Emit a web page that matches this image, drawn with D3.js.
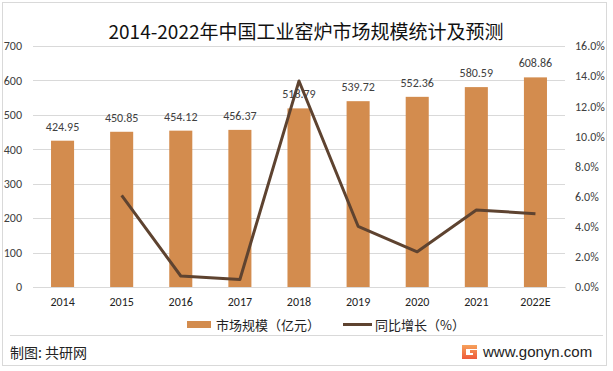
<!DOCTYPE html>
<html>
<head>
<meta charset="utf-8">
<script src="https://cdn.jsdelivr.net/npm/d3@7"></script>
<style>
	body { margin: 0; background: #fff; }
	text { font-family: "Microsoft YaHei", "Noto Sans CJK SC", sans-serif; }
</style>
</head>
<body>
<div id="graphic-wrapper"></div>
<script>
const years = ["2014", "2015", "2016", "2017", "2018", "2019", "2020", "2021", "2022E"]
const marketSize = [424.95, 450.85, 454.12, 456.37, 518.79, 539.72, 552.36, 580.59, 608.86]
const growthPct = [null, 6.09, 0.73, 0.50, 13.68, 4.03, 2.34, 5.11, 4.87]
const leftTicks = [0, 100, 200, 300, 400, 500, 600, 700]
const rightTicks = [0, 2, 4, 6, 8, 10, 12, 14, 16]

const BAR_COLOR = "#D38C4E"
const LINE_COLOR = "#5E4330"
const TEXT_COLOR = "#404040"

const DIMENSIONS = {
	width: 613,
	height: 371,
	margin: { top: 46, right: 48, bottom: 84, left: 33 },
}
DIMENSIONS.boundedWidth = DIMENSIONS.width - DIMENSIONS.margin.left - DIMENSIONS.margin.right
DIMENSIONS.boundedHeight = DIMENSIONS.height - DIMENSIONS.margin.top - DIMENSIONS.margin.bottom

const svg = d3.select("#graphic-wrapper")
	.append("svg")
		.attr("width", DIMENSIONS.width)
		.attr("height", DIMENSIONS.height)

// outer frame
svg.append("rect")
	.attr("x", 2.5).attr("y", 2.5)
	.attr("width", 604).attr("height", 363)
	.attr("fill", "none")
	.attr("stroke", "#d9d9d9")

svg.append("text")
	.attr("x", 306)
	.attr("y", 39)
	.attr("text-anchor", "middle")
	.attr("font-size", 19)
	.attr("fill", "#111")
	.text("2014-2022年中国工业窑炉市场规模统计及预测")

const bounds = svg.append("g")
	.attr("transform", `translate(${DIMENSIONS.margin.left},${DIMENSIONS.margin.top})`)

const xScale = d3.scaleBand()
	.domain(years)
	.range([0, DIMENSIONS.boundedWidth])
	.paddingInner(0.61)
	.paddingOuter(0.305)

const yScale = d3.scaleLinear()
	.domain([0, 700])
	.range([DIMENSIONS.boundedHeight, 0])

const y2Scale = d3.scaleLinear()
	.domain([0, 16])
	.range([DIMENSIONS.boundedHeight, 0])

// grid lines
bounds.selectAll(".grid-line")
	.data(leftTicks)
	.join("line")
		.attr("class", "grid-line")
		.attr("x1", 0)
		.attr("x2", DIMENSIONS.boundedWidth)
		.attr("y1", d => Math.round(yScale(d)) + 0.5)
		.attr("y2", d => Math.round(yScale(d)) + 0.5)
		.attr("stroke", "#d9d9d9")

// left axis
const yAxis = d3.axisLeft(yScale).tickValues(leftTicks).tickSize(0).tickPadding(11)
const yAxisG = bounds.append("g").call(yAxis)
yAxisG.select(".domain").remove()
yAxisG.selectAll("text")
	.attr("font-size", 12)
	.attr("fill", TEXT_COLOR)
	.style("font-family", "Calibri, Carlito, 'Liberation Sans', sans-serif")

// right axis
const y2Axis = d3.axisRight(y2Scale).tickValues(rightTicks).tickSize(0).tickPadding(10)
	.tickFormat(d => d.toFixed(1) + "%")
const y2AxisG = bounds.append("g")
	.attr("transform", `translate(${DIMENSIONS.boundedWidth},0)`)
	.call(y2Axis)
y2AxisG.select(".domain").remove()
y2AxisG.selectAll("text")
	.attr("font-size", 12)
	.attr("fill", TEXT_COLOR)
	.style("font-family", "Calibri, Carlito, 'Liberation Sans', sans-serif")

// bars
bounds.selectAll(".bar")
	.data(marketSize)
	.join("rect")
		.attr("class", "bar")
		.attr("x", (d, i) => xScale(years[i]))
		.attr("y", d => yScale(d))
		.attr("width", xScale.bandwidth())
		.attr("height", d => DIMENSIONS.boundedHeight - yScale(d))
		.attr("fill", BAR_COLOR)

// x labels
const xAxis = d3.axisBottom(xScale).tickSize(0).tickPadding(10)
const xAxisG = bounds.append("g")
	.attr("transform", `translate(0,${DIMENSIONS.boundedHeight})`)
	.call(xAxis)
xAxisG.select(".domain")
	.attr("stroke", "#d9d9d9")
xAxisG.selectAll("text")
	.attr("font-size", 12)
	.attr("fill", "#222")
	.style("font-family", "Calibri, Carlito, 'Liberation Sans', sans-serif")

// growth line
const lineData = growthPct.map((v, i) => ({ x: years[i], y: v })).filter(d => d.y !== null)
const lineGenerator = d3.line()
	.x(d => xScale(d.x) + xScale.bandwidth() / 2)
	.y(d => y2Scale(d.y))

bounds.append("path")
	.datum(lineData)
	.attr("d", lineGenerator)
	.attr("fill", "none")
	.attr("stroke", LINE_COLOR)
	.attr("stroke-width", 3)
	.attr("stroke-linejoin", "round")

// value labels
bounds.selectAll(".value-label")
	.data(marketSize)
	.join("text")
		.attr("class", "value-label")
		.attr("x", (d, i) => xScale(years[i]) + xScale.bandwidth() / 2)
		.attr("y", d => yScale(d) - 10)
		.attr("text-anchor", "middle")
		.attr("font-size", 12)
		.attr("fill", TEXT_COLOR)
		.style("font-family", "Calibri, Carlito, 'Liberation Sans', sans-serif")
		.text(d => d.toFixed(2))

// legend
const legend = svg.append("g").attr("transform", "translate(0,325)")
legend.append("rect")
	.attr("x", 187).attr("y", -4)
	.attr("width", 24).attr("height", 7)
	.attr("fill", BAR_COLOR)
legend.append("text")
	.attr("x", 216).attr("y", 5)
	.attr("font-size", 13)
	.attr("fill", "#222")
	.text("市场规模（亿元）")
legend.append("line")
	.attr("x1", 343).attr("x2", 372)
	.attr("y1", -0.5).attr("y2", -0.5)
	.attr("stroke", LINE_COLOR)
	.attr("stroke-width", 3)
legend.append("text")
	.attr("x", 375).attr("y", 5)
	.attr("font-size", 13)
	.attr("fill", "#222")
	.text("同比增长（%）")

// footer
svg.append("line")
	.attr("x1", 10).attr("x2", 603)
	.attr("y1", 335.5).attr("y2", 335.5)
	.attr("stroke", "#d9d9d9")

svg.append("text")
	.attr("x", 10).attr("y", 358)
	.attr("font-size", 14)
	.attr("fill", "#222")
	.text("制图: 共研网")

// small logo mark
const logo = svg.append("g").attr("transform", "translate(462,345)")
const grad = svg.append("defs").append("linearGradient")
	.attr("id", "logo-grad").attr("x1", 0).attr("y1", 0).attr("x2", 0).attr("y2", 1)
grad.append("stop").attr("offset", 0).attr("stop-color", "#F6A15B")
grad.append("stop").attr("offset", 1).attr("stop-color", "#EE5A3A")
logo.append("path")
	.attr("d", "M0,0 H15 V4 H4 V10 H11 V8 H8 V5 H15 V14 H0 Z")
	.attr("fill", "url(#logo-grad)")

svg.append("text")
	.attr("x", 483).attr("y", 357)
	.attr("font-size", 15)
	.attr("fill", "#222")
	.style("font-family", "Arial, 'Liberation Sans', sans-serif")
	.text("www.gonyn.com")
</script>
</body>
</html>
